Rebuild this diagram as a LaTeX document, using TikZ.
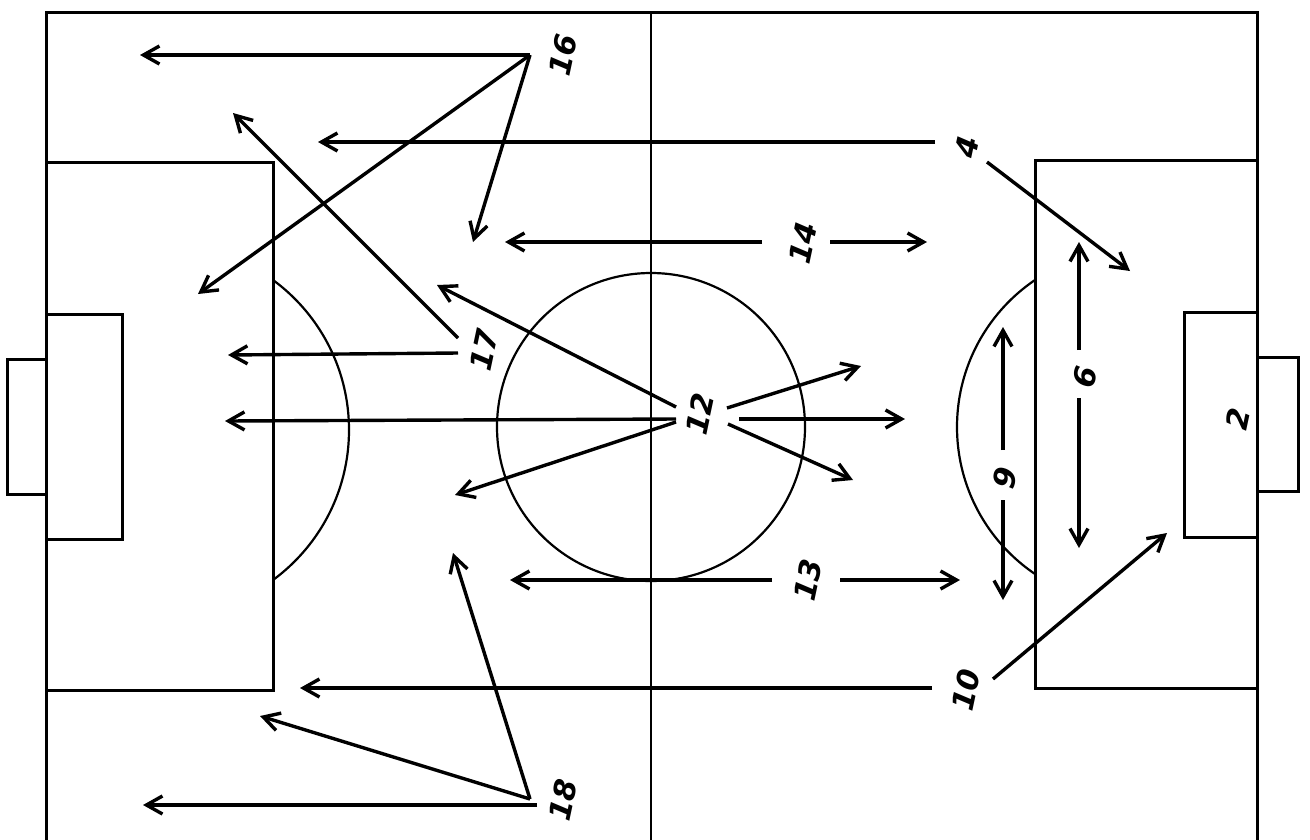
\documentclass[tikz,border=0pt]{standalone}
\usepackage{fontspec}
\setsansfont{DejaVu Sans}
\usetikzlibrary{arrows.meta}
\begin{document}
\begin{tikzpicture}[x=1pt,y=-1pt,
  fieldline/.style={line width=3.0pt,black},
  thinline/.style={line width=2.2pt,black},
  move/.style={line width=3.4pt,black,-{Straight Barb[length=16pt,width=18pt,line width=3.4pt]}},
  num/.style={font=\fontsize{30}{30}\selectfont\sffamily\bfseries\itshape,rotate=78,inner sep=0pt}]
\clip (0,0) rectangle (1310,839);
\fill[white] (0,0) rectangle (1310,839);
% field
\draw[fieldline] (46,850) -- (46,12) -- (1257,12) -- (1257,850);
\draw[thinline] (651,12) -- (651,850);
\draw[thinline] (651,427) circle (154);
% left side
\draw[fieldline] (46,162) -- (273,162) -- (273,690) -- (46,690);
\draw[fieldline] (46,314) -- (122,314) -- (122,539) -- (46,539);
\draw[fieldline] (46,359) -- (7,359) -- (7,494) -- (46,494);
\begin{scope}\clip (273,0) rectangle (600,839);
\draw[thinline] (163,430) circle (186);
\end{scope}
% right side
\draw[fieldline] (1257,160) -- (1035,160) -- (1035,688) -- (1257,688);
\draw[fieldline] (1257,312) -- (1184,312) -- (1184,537) -- (1257,537);
\draw[fieldline] (1257,357) -- (1298,357) -- (1298,491) -- (1257,491);
\begin{scope}\clip (700,0) rectangle (1035,839);
\draw[thinline] (1134.5,427) circle (177.5);
\end{scope}
% labels
\node[num] (n16) at (563,55) {16};
\node[num] (n4) at (967,147) {4};
\node[num] (n14) at (803,243) {14};
\node[num] (n17) at (484,350) {17};
\node[num] (n12) at (700,414) {12};
\node[num] (n6) at (1085,377) {6};
\node[num] (n9) at (1005,478) {9};
\node[num] (n2) at (1238,419) {2};
\node[num] (n13) at (808,580) {13};
\node[num] (n10) at (966,690) {10};
\node[num] (n18) at (563,800) {18};
% coordinates
\coordinate (s16) at (530,55);
\coordinate (e16a) at (140,55);
\coordinate (e16b) at (198,294);
\coordinate (e16c) at (473,242);
\coordinate (s4a) at (935,142);
\coordinate (e4a) at (318,142);
\coordinate (s4b) at (987,162);
\coordinate (e4b) at (1130,271);
\coordinate (s14a) at (762,242);
\coordinate (e14a) at (505,242);
\coordinate (s14b) at (830,242);
\coordinate (e14b) at (927,242);
\coordinate (s17a) at (458,338);
\coordinate (e17a) at (233,113);
\coordinate (s17b) at (458,353);
\coordinate (e17b) at (228,355);
\coordinate (s12a) at (676,407);
\coordinate (e12a) at (437,285);
\coordinate (s12b) at (676,419);
\coordinate (e12b) at (225,421);
\coordinate (s12c) at (676,422);
\coordinate (e12c) at (455,495);
\coordinate (s12d) at (727,408);
\coordinate (e12d) at (861,366);
\coordinate (s12e) at (739,419);
\coordinate (e12e) at (905,419);
\coordinate (s12f) at (728,424);
\coordinate (e12f) at (853,480);
\coordinate (s6a) at (1079,350);
\coordinate (e6a) at (1079,242);
\coordinate (s6b) at (1079,398);
\coordinate (e6b) at (1079,548);
\coordinate (s9a) at (1003,450);
\coordinate (e9a) at (1003,327);
\coordinate (s9b) at (1003,500);
\coordinate (e9b) at (1003,600);
\coordinate (s13a) at (772,580);
\coordinate (e13a) at (510,580);
\coordinate (s13b) at (840,580);
\coordinate (e13b) at (960,580);
\coordinate (s10a) at (932,688);
\coordinate (e10a) at (300,688);
\coordinate (s10b) at (993,679);
\coordinate (e10b) at (1167,533);
\coordinate (s18) at (530,799);
\coordinate (e18a) at (453,553);
\coordinate (e18b) at (260,716);
\coordinate (s18c) at (537,805);
\coordinate (e18c) at (143,805);
% arrows
\draw[move] (s16) -- (e16a);
\draw[move] (s16) -- (e16b);
\draw[move] (s16) -- (e16c);
\draw[move] (s4a) -- (e4a);
\draw[move] (s4b) -- (e4b);
\draw[move] (s14a) -- (e14a);
\draw[move] (s14b) -- (e14b);
\draw[move] (s17a) -- (e17a);
\draw[move] (s17b) -- (e17b);
\draw[move] (s12a) -- (e12a);
\draw[move] (s12b) -- (e12b);
\draw[move] (s12c) -- (e12c);
\draw[move] (s12d) -- (e12d);
\draw[move] (s12e) -- (e12e);
\draw[move] (s12f) -- (e12f);
\draw[move] (s6a) -- (e6a);
\draw[move] (s6b) -- (e6b);
\draw[move] (s9a) -- (e9a);
\draw[move] (s9b) -- (e9b);
\draw[move] (s13a) -- (e13a);
\draw[move] (s13b) -- (e13b);
\draw[move] (s10a) -- (e10a);
\draw[move] (s10b) -- (e10b);
\draw[move] (s18) -- (e18a);
\draw[move] (s18) -- (e18b);
\draw[move] (s18c) -- (e18c);
\end{tikzpicture}
\end{document}
